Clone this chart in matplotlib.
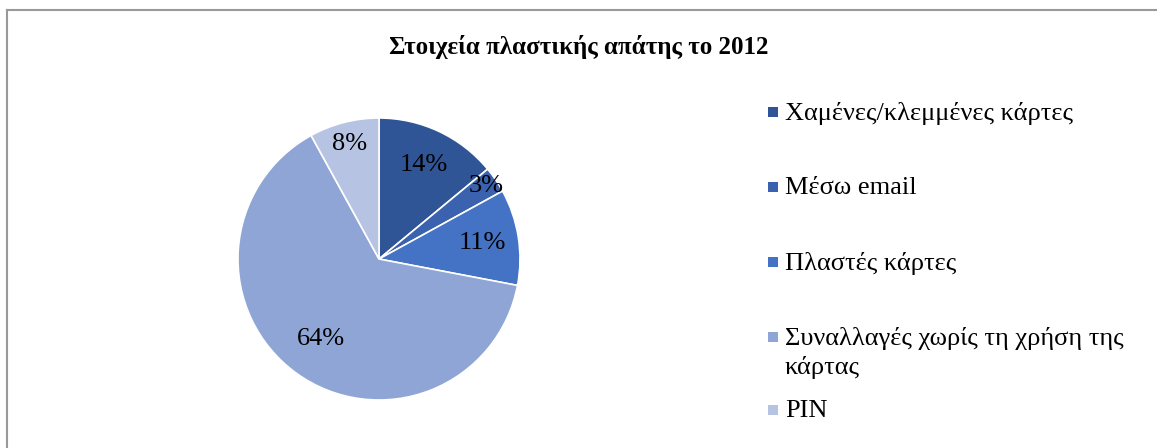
import numpy as np
import matplotlib.pyplot as plt
from matplotlib.lines import Line2D
from matplotlib.patches import Rectangle

labels = ['Χαμένες/κλεμμένες κάρτες', 'Μέσω email', 'Πλαστές κάρτες',
          'Συναλλαγές χωρίς τη χρήση της\nκάρτας', 'PIN']
values = [14, 3, 11, 64, 8]
colors = ['#2F5597', '#3A62AE', '#4472C4', '#8FA5D6', '#B7C3E3']
# radial position of each percentage label, as fraction of radius
label_dist = [0.74, 0.92, 0.74, 0.70, 0.84]

plt.rcParams['font.family'] = ['Liberation Serif', 'DejaVu Serif']

W, H = 1157, 448
dpi = 100
fig = plt.figure(figsize=(W / dpi, H / dpi), dpi=dpi)

def fx(px):
    return px / W

def fy(py):
    return 1 - py / H

# chart frame (only top and left edges visible)
fig.add_artist(Line2D([fx(7), 1], [fy(10), fy(10)], color='#999999', lw=1.5))
fig.add_artist(Line2D([fx(7), fx(7)], [0, fy(10)], color='#999999', lw=1.5))

fig.text(0.5, fy(47), 'Στοιχεία πλαστικής απάτης το 2012',
         ha='center', va='center', fontsize=18, fontweight='bold')

# pie axes: centre (379, 259), radius ~141 px
r = 141
cx, cy = 379, 259
ax = fig.add_axes([fx(cx - r), fy(cy + r), 2 * r / W, 2 * r / H])
wedges, _ = ax.pie(values, colors=colors, startangle=90, counterclock=False,
                   wedgeprops=dict(edgecolor='white', linewidth=1.2))
ax.set_aspect('equal')
ax.set_xlim(-1, 1)
ax.set_ylim(-1, 1)

for w, v, d in zip(wedges, values, label_dist):
    ang = np.deg2rad((w.theta1 + w.theta2) / 2)
    ax.text(d * np.cos(ang), d * np.sin(ang), f'{v}%', ha='center', va='center',
            fontsize=19)

# legend drawn by hand (Word-style uneven spacing)
leg_y = [112, 187, 262, 337, 410]
for lab, col, y in zip(labels, colors, leg_y):
    fig.add_artist(Rectangle((fx(768), fy(y + 5)), 10 / W, 10 / H,
                             facecolor=col, edgecolor='none'))
    fig.text(fx(785), fy(y - 10), lab, ha='left', va='top', fontsize=19,
             linespacing=1.35)

plt.savefig('out.png', dpi=dpi)
